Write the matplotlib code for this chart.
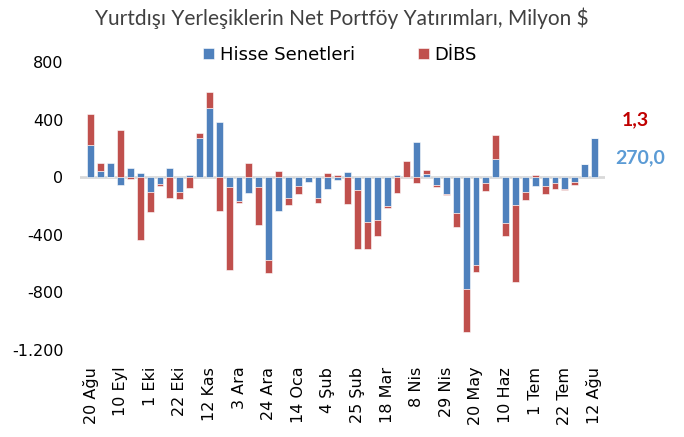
import matplotlib.pyplot as plt
import numpy as np

# weekly data, Milyon $
weeks = ["20 Ağu", "", "", "10 Eyl", "", "", "1 Eki", "", "", "22 Eki", "", "",
         "12 Kas", "", "", "3 Ara", "", "", "24 Ara", "", "", "14 Oca", "", "",
         "4 Şub", "", "", "25 Şub", "", "", "18 Mar", "", "", "8 Nis", "", "",
         "29 Nis", "", "", "20 May", "", "", "10 Haz", "", "", "1 Tem", "", "",
         "22 Tem", "", "", "12 Ağu"]

hisse = [225, 42, 100, -51, 65, 30, -100, -49, 65, -104, 19, 274, 483, 387,
         -70, -162, -107, -70, -575, -232, -146, -58, -35, -144, -84, -21,
         37, -90, -311, -295, -202, 14, 5, 246, 23, -53, -116, -251, -775,
         -610, -42, 128, -318, -193, -104, -63, -63, -42, -81, -30, 90, 270.0]

dibs = [213, 58, 0, 325, -14, -434, -144, -14, -141, -49, -74, 35, 107, -232,
        -575, -14, 100, -262, -93, 42, -44, -60, 0, -37, 30, 14, -186, -406,
        -186, -116, -14, -109, 107, -39, 26, -16, -5, -93, -297, -51, -53,
        162, -88, -534, -51, 14, -56, -39, -5, -23, 5, 1.3]

blue = "#4F81BD"
red = "#C0504D"
plt.rcParams["font.family"] = ["DejaVu Sans"]

hisse = np.array(hisse, dtype=float)
dibs = np.array(dibs, dtype=float)
x = np.arange(len(hisse))

# excel-style stacking: positives up from zero, negatives down from zero
dibs_bottom = np.where(np.sign(dibs) == np.sign(hisse), hisse, 0)

fig = plt.figure(figsize=(6.84, 4.37), dpi=100)
ax = fig.add_axes([0.117, 0.199, 0.768, 0.659])

ax.bar(x, hisse, width=0.7, color=blue, edgecolor="white", linewidth=0.4,
       label="Hisse Senetleri", zorder=2)
ax.bar(x, dibs, width=0.7, bottom=dibs_bottom, color=red, edgecolor="white",
       linewidth=0.4, label="DİBS", zorder=2)
ax.axhline(0, color="#d9d9d9", lw=2, zorder=1)

ax.set_xlim(-1.1, 52.1)
ax.set_ylim(-1200, 800)
ax.set_yticks([800, 400, 0, -400, -800, -1200])
ax.set_yticklabels(["800", "400", "0", "-400", "-800", "-1.200"])
ax.set_xticks(x)
ax.set_xticklabels(weeks, rotation=90)
ax.tick_params(length=0, labelsize=11.5, colors="black")
ax.tick_params(axis="y", pad=12)
ax.tick_params(axis="x", pad=12)
for s in ax.spines.values():
    s.set_visible(False)

fig.text(0.5, 0.958, "Yurtdışı Yerleşiklerin Net Portföy Yatırımları, Milyon $",
         ha="center", va="center", fontsize=15, color="#404040", family="Lato")
fig.legend(loc="center", bbox_to_anchor=(0.497, 0.874), ncol=2, frameon=False,
           fontsize=13, handlelength=0.6, handleheight=0.6, handletextpad=0.3,
           columnspacing=3.5)

fig.text(0.929, 0.725, "1,3", color="#C00000", fontsize=14, fontweight="bold",
         ha="center", va="center", family="Lato")
fig.text(0.936, 0.638, "270,0", color="#5B9BD5", fontsize=14, fontweight="bold",
         ha="center", va="center", family="Lato")

fig.savefig("out.png", dpi=100)
